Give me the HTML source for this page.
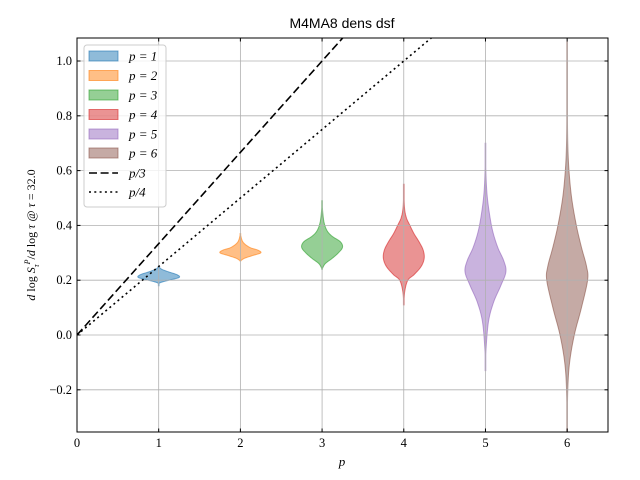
<!DOCTYPE html>
<html><head><meta charset="utf-8"><style>
body{margin:0;background:#fff;}
svg{display:block;}
</style></head><body>
<svg id="chart" width="640" height="480" viewBox="0 0 640 480" xmlns="http://www.w3.org/2000/svg">
<defs><clipPath id="clip"><rect x="77" y="38" width="531" height="394"/></clipPath></defs>
<rect x="0" y="0" width="640" height="480" fill="#fff"/>
<text x="342" y="28" text-anchor="middle" font-family="Liberation Sans, sans-serif" font-size="14">M4MA8 dens dsf</text>
<g id="violins" clip-path="url(#clip)"></g>
<g id="grid"></g>
<g id="refs" clip-path="url(#clip)"></g>
<g id="axes"></g>
<text x="342" y="466" text-anchor="middle" font-family="Liberation Serif, serif" font-style="italic" font-size="13">p</text>
<text transform="translate(35,235) rotate(-90)" text-anchor="middle" font-family="Liberation Serif, serif" font-size="12"><tspan font-style="italic">d</tspan> log <tspan font-style="italic">S</tspan><tspan font-size="8" dy="4" font-style="italic">τ</tspan><tspan font-size="8" dy="-9" font-style="italic">P</tspan><tspan dy="5">/</tspan><tspan font-style="italic">d</tspan> log <tspan font-style="italic">τ</tspan> @ <tspan font-style="italic">τ</tspan> = 32.0</text>
<g id="legend"></g>
</svg>
<script>
const categories=[1,2,3,4,5,6];
const colors=['#1f77b4','#ff7f0e','#2ca02c','#d62728','#9467bd','#8c564b'];
const violinValues=[
[0.18,0.19,0.20,0.21,0.22,0.23,0.24,0.25],
[0.27,0.28,0.29,0.30,0.31,0.32,0.34,0.37],
[0.24,0.26,0.28,0.30,0.32,0.34,0.36,0.38,0.41,0.45,0.49],
[0.11,0.16,0.20,0.22,0.25,0.28,0.31,0.34,0.37,0.40,0.43,0.47,0.55],
[-0.13,-0.05,0.05,0.12,0.18,0.23,0.27,0.32,0.38,0.45,0.52,0.60,0.70],
[-0.35,-0.2,-0.1,0.0,0.1,0.2,0.25,0.32,0.4,0.5,0.6,0.7,0.85,1.07]];
const violinDensity=[
[0,0.05,0.5,1,0.9,0.5,0.15,0],
[0,0.2,0.6,1,0.85,0.45,0.12,0],
[0,0.15,0.5,0.8,1,0.9,0.5,0.25,0.1,0.03,0],
[0,0.05,0.2,0.5,0.85,1,0.95,0.75,0.5,0.3,0.12,0.03,0],
[0,0.03,0.15,0.4,0.75,1,0.9,0.6,0.35,0.18,0.07,0.02,0],
[0,0.03,0.12,0.35,0.7,1,0.95,0.7,0.45,0.22,0.09,0.03,0.01,0]];
const xTicks=[0,1,2,3,4,5,6];
const yTicks=[-0.2,0,0.2,0.4,0.6,0.8,1.0];
const yTickLabels=['−0.2','0.0','0.2','0.4','0.6','0.8','1.0'];
const refSlopes=[1/3,1/4];
const legendLabels=['p = 1','p = 2','p = 3','p = 4','p = 5','p = 6','p/3','p/4'];

const X0=77,X1=608,Y0=38,Y1=432,xmin=0,xmax=6.5,ymin=-0.354,ymax=1.084;
const sx=v=>X0+(v-xmin)/(xmax-xmin)*(X1-X0);
const sy=v=>Y1-(v-ymin)/(ymax-ymin)*(Y1-Y0);
const NS='http://www.w3.org/2000/svg';
function mk(tag,attrs,parent){const e=document.createElementNS(NS,tag);for(const k in attrs)e.setAttribute(k,attrs[k]);parent.appendChild(e);return e;}
const gV=document.getElementById('violins');
const halfW=0.25;
function smooth(vals,dens){
  const out=[];const n=vals.length;
  for(let i=0;i<n-1;i++){
    const p0=[vals[Math.max(i-1,0)],dens[Math.max(i-1,0)]],p1=[vals[i],dens[i]],p2=[vals[i+1],dens[i+1]],p3=[vals[Math.min(i+2,n-1)],dens[Math.min(i+2,n-1)]];
    for(let t=0;t<1;t+=0.1){const t2=t*t,t3=t2*t;
      const f=(a,b,c,d)=>0.5*(2*b+(-a+c)*t+(2*a-5*b+4*c-d)*t2+(-a+3*b-3*c+d)*t3);
      out.push([f(p0[0],p1[0],p2[0],p3[0]),Math.max(0,f(p0[1],p1[1],p2[1],p3[1]))]);}
  }
  out.push([vals[n-1],dens[n-1]]);return out;
}
categories.forEach((c,i)=>{
  const pts=smooth(violinValues[i],violinDensity[i]);
  let d='';
  pts.forEach((p,j)=>{d+=(j?'L':'M')+(sx(c+Math.max(p[1]*halfW,0.004))).toFixed(2)+','+sy(p[0]).toFixed(2);});
  for(let j=pts.length-1;j>=0;j--){const p=pts[j];d+='L'+(sx(c-Math.max(p[1]*halfW,0.004))).toFixed(2)+','+sy(p[0]).toFixed(2);}
  d+='Z';
  const el=mk('path',{d:d,fill:colors[i],'fill-opacity':0.5,stroke:colors[i],'stroke-opacity':0.6,'stroke-width':1},gV);
  
  
});
const gG=document.getElementById('grid');
xTicks.forEach(t=>{const l=mk('line',{x1:sx(t),x2:sx(t),y1:Y0,y2:Y1,stroke:'#b0b0b0','stroke-width':0.8},gG);
  
  });
yTicks.forEach(t=>{const l=mk('line',{x1:X0,x2:X1,y1:sy(t),y2:sy(t),stroke:'#b0b0b0','stroke-width':0.8},gG);
  
  });
const gR=document.getElementById('refs');
const dashes=['8,3.6','2,3.3'];
refSlopes.forEach((s,i)=>{const l=mk('line',{x1:sx(0),y1:sy(0),x2:sx(6.5),y2:sy(6.5*s),stroke:'#000','stroke-width':1.6,'stroke-dasharray':dashes[i]},gR);
  
  });
const gA=document.getElementById('axes');
const fr=mk('rect',{x:X0,y:Y0,width:X1-X0,height:Y1-Y0,fill:'none',stroke:'#000','stroke-width':1},gA);


xTicks.forEach(t=>{
  mk('line',{x1:sx(t),x2:sx(t),y1:Y1,y2:Y1-3.5,stroke:'#000'},gA);
  mk('line',{x1:sx(t),x2:sx(t),y1:Y0,y2:Y0+3.5,stroke:'#000'},gA);
  const tx=mk('text',{x:sx(t),y:Y1+15,'text-anchor':'middle','font-family':'Liberation Serif, serif','font-size':12.5},gA);
  tx.textContent=t;
  
  
});
yTicks.forEach((t,i)=>{
  mk('line',{x1:X0,x2:X0+3.5,y1:sy(t),y2:sy(t),stroke:'#000'},gA);
  mk('line',{x1:X1,x2:X1-3.5,y1:sy(t),y2:sy(t),stroke:'#000'},gA);
  const tx=mk('text',{x:X0-5,y:sy(t)+4,'text-anchor':'end','font-family':'Liberation Serif, serif','font-size':12.5},gA);
  tx.textContent=yTickLabels[i];
  
  
});
const gL=document.getElementById('legend');
const lb=mk('rect',{x:84,y:45,width:82,height:162,rx:3,fill:'#fff','fill-opacity':0.8,stroke:'#ccc'},gL);


const ly=[56,75.5,95,114.5,134,153,173,192];
legendLabels.forEach((lab,i)=>{
  if(i<6){const r=mk('rect',{x:89,y:ly[i]-5,width:29,height:10,fill:colors[i],'fill-opacity':0.5,stroke:colors[i],'stroke-opacity':0.6},gL);
    
    }
  else{const l=mk('line',{x1:89,x2:118,y1:ly[i],y2:ly[i],stroke:'#000','stroke-width':1.6,'stroke-dasharray':dashes[i-6]},gL);
    
    }
  const tx=mk('text',{x:129,y:ly[i]+4.5,'font-family':'Liberation Serif, serif','font-style':'italic','font-size':13},gL);
  tx.textContent=lab;
  
  
});
</script>
</body></html>
